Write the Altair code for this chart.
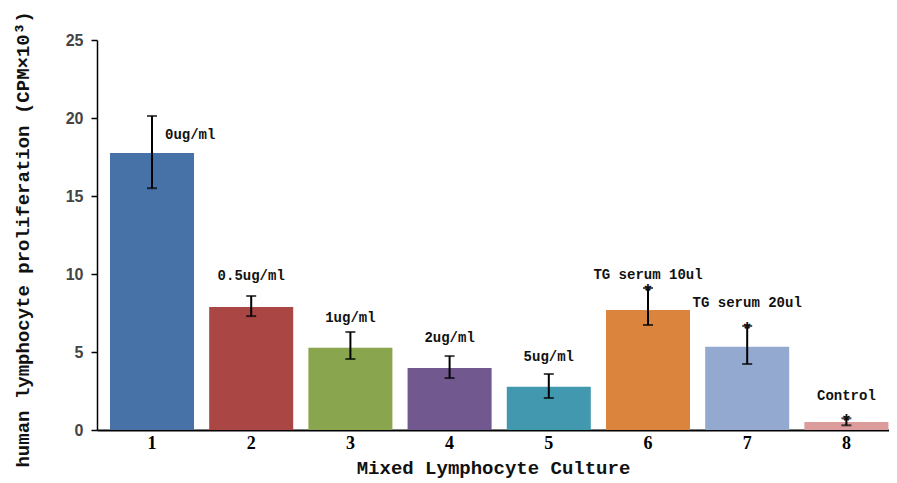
import altair as alt
import pandas as pd

groups = ["1", "2", "3", "4", "5", "6", "7", "8"]
values = [17.75, 7.88, 5.28, 3.98, 2.78, 7.70, 5.34, 0.52]
err_low = [15.50, 7.30, 4.55, 3.33, 2.05, 6.73, 4.23, 0.30]
err_high = [20.13, 8.59, 6.28, 4.74, 3.59, 9.10, 6.67, 0.75]
labels = ["0ug/ml", "0.5ug/ml", "1ug/ml", "2ug/ml", "5ug/ml",
          "TG serum 10ul", "TG serum 20ul", "Control"]
label_y = [18.9, 9.87, 7.18, 5.9, 4.68, 9.95, 8.14, 2.18]
sig = ["", "", "", "", "", "*", "*", "*"]
colors = ["#4672A8", "#AA4643", "#89A54E", "#71588F",
          "#4198AF", "#DB843D", "#93A9CF", "#DC9C9C"]
y_ticks = [0, 5, 10, 15, 20, 25]

df = pd.DataFrame({
    "group": groups, "value": values, "low": err_low, "high": err_high,
    "label": labels, "label_y": label_y, "sig": sig,
})

mono = "Liberation Mono"

x = alt.X("group:N", sort=groups,
          scale=alt.Scale(paddingInner=0.153, paddingOuter=0.0685, align=0.956),
          axis=alt.Axis(title="Mixed Lymphocyte Culture", labelAngle=0,
                        ticks=False, labelFont="Liberation Serif",
                        labelFontWeight="bold", labelFontSize=18,
                        labelColor="#000000", labelPadding=4,
                        domainColor="#000000", domainWidth=2,
                        titleFont=mono, titleFontSize=19, titleFontWeight="bold",
                        titleColor="#111111", titleY=37, titleBaseline="middle"))

y_scale = alt.Scale(domain=[0, 25], nice=False)

bars = alt.Chart(df).mark_bar().encode(
    x=x,
    y=alt.Y("value:Q", scale=y_scale,
            axis=alt.Axis(values=y_ticks, grid=False,
                          title="human lymphocyte proliferation (CPM×10³)",
                          labelFont="Liberation Sans", labelFontWeight="bold",
                          labelFontSize=16, labelColor="#444444",
                          labelPadding=8, tickSize=6, tickColor="#000000",
                          tickWidth=1.5, domainColor="#000000", domainWidth=1.5,
                          titleFont=mono, titleFontSize=19, titleFontWeight="bold",
                          titleColor="#111111", titleAngle=270,
                          titleX=-75, titleY=199, titleAlign="center",
                          titleBaseline="middle")),
    color=alt.Color("group:N", scale=alt.Scale(domain=groups, range=colors),
                    legend=None),
)

rules = alt.Chart(df).mark_rule(color="#000000", strokeWidth=2).encode(
    x=alt.X("group:N", sort=groups), y="low:Q", y2="high:Q")

caps_low = alt.Chart(df).mark_tick(color="#000000", thickness=2, size=10,
                                   orient="horizontal").encode(
    x=alt.X("group:N", sort=groups), y="low:Q")
caps_high = alt.Chart(df).mark_tick(color="#000000", thickness=2, size=10,
                                    orient="horizontal").encode(
    x=alt.X("group:N", sort=groups), y="high:Q")

lab_first = alt.Chart(df).transform_filter(alt.datum.group == "1").mark_text(
    font=mono, fontSize=14, fontWeight="bold", color="#111111",
    align="left", baseline="middle", dx=13).encode(
    x=alt.X("group:N", sort=groups), y="label_y:Q", text="label:N")

lab_rest = alt.Chart(df).transform_filter(alt.datum.group != "1").mark_text(
    font=mono, fontSize=14, fontWeight="bold", color="#111111",
    align="center", baseline="middle").encode(
    x=alt.X("group:N", sort=groups), y="label_y:Q", text="label:N")

stars = alt.Chart(df).mark_text(
    font=mono, fontSize=18, fontWeight="bold", color="#111111",
    align="center", baseline="middle", dy=4).encode(
    x=alt.X("group:N", sort=groups), y="high:Q", text="sig:N")

chart = alt.layer(bars, rules, caps_low, caps_high, lab_first, lab_rest, stars).properties(
    width=792, height=390,
    autosize=alt.AutoSizeParams(type="none"),
    padding={"left": 89, "top": 32, "right": 0, "bottom": 50},
    background="#ffffff",
).configure_view(stroke=None)

chart.save("out.html", embed_options={"renderer": "svg", "actions": False})
